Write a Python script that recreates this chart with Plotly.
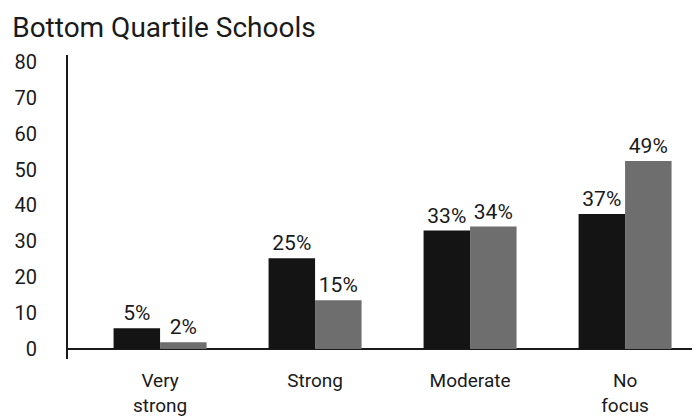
import plotly.graph_objects as go

categories = ["Very<br>strong", "Strong", "Moderate", "No<br>focus"]
dark_values = [5.8, 25.3, 33.0, 37.6]
gray_values = [1.9, 13.6, 34.1, 52.4]
dark_labels = ["5%", "25%", "33%", "37%"]
gray_labels = ["2%", "15%", "34%", "49%"]
y_ticks = [0, 10, 20, 30, 40, 50, 60, 70, 80]

font_family = "Roboto, Liberation Sans, sans-serif"

fig = go.Figure()

fig.add_trace(
    go.Bar(
        x=categories,
        y=dark_values,
        text=dark_labels,
        textposition="outside",
        cliponaxis=False,
        marker=dict(color="#141414", line=dict(width=0)),
        textfont=dict(size=21, color="#1a1a1a"),
        name="Series 1",
    )
)

fig.add_trace(
    go.Bar(
        x=categories,
        y=gray_values,
        text=gray_labels,
        textposition="outside",
        cliponaxis=False,
        marker=dict(color="#6e6e6e", line=dict(width=0)),
        textfont=dict(size=21, color="#1a1a1a"),
        name="Series 2",
    )
)

fig.update_layout(
    width=700,
    height=419,
    margin=dict(l=60, r=0, t=47, b=68),
    paper_bgcolor="white",
    plot_bgcolor="white",
    showlegend=False,
    barmode="group",
    bargap=0.4,
    bargroupgap=0,
    font=dict(family=font_family, color="#1a1a1a"),
    title=dict(
        text="Bottom Quartile Schools",
        font=dict(size=28, color="#1a1a1a"),
        xref="container",
        yref="container",
        x=0.006,
        xanchor="left",
        y=0.978,
        yanchor="top",
    ),
)

fig.update_xaxes(
    range=[-0.594, 3.535],
    showline=False,
    showgrid=False,
    ticks="",
    tickfont=dict(size=19, color="#1a1a1a"),
    ticklabelstandoff=8,
)

fig.update_yaxes(
    range=[-2.79, 81.9],
    tickvals=y_ticks,
    showgrid=False,
    showline=True,
    linecolor="#1a1a1a",
    linewidth=2,
    zeroline=True,
    zerolinecolor="#1a1a1a",
    zerolinewidth=2,
    ticks="",
    tickfont=dict(size=20, color="#1a1a1a"),
    ticklabelstandoff=25,
)

fig.write_html("out.html")
